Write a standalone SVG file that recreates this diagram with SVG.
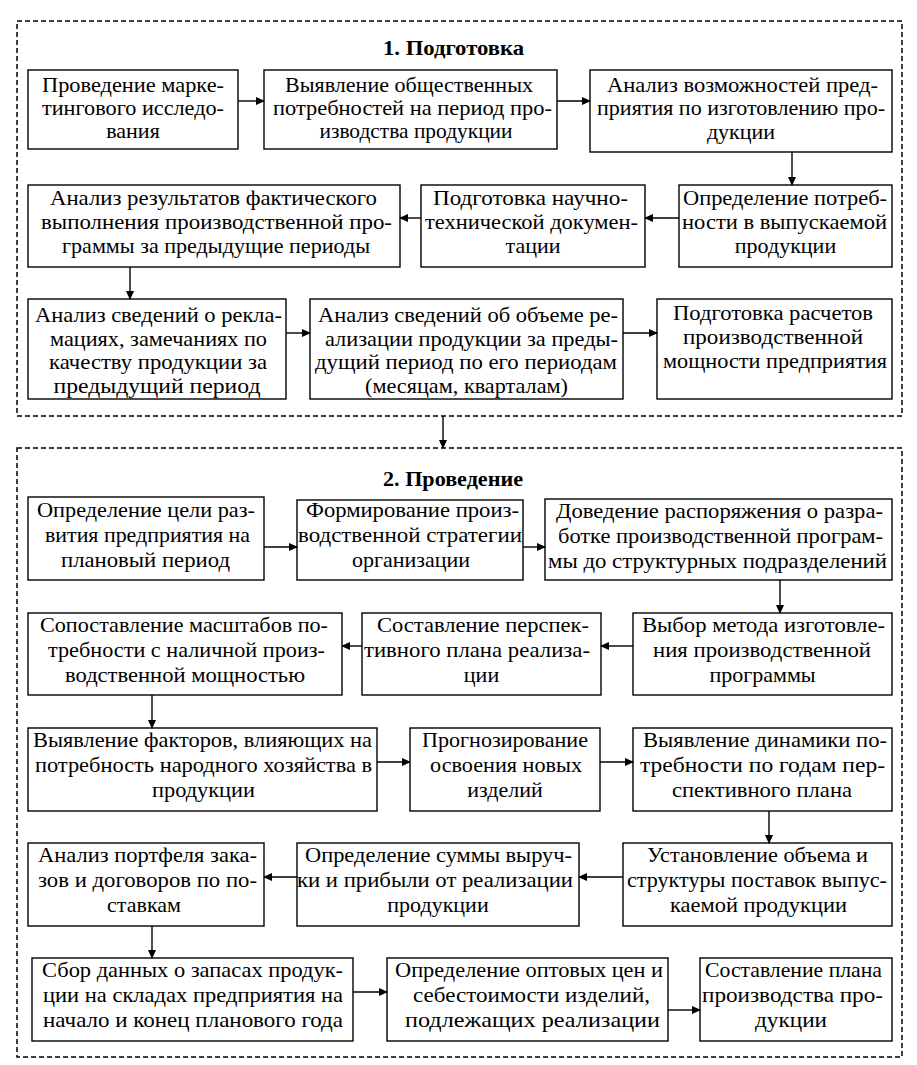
<svg xmlns="http://www.w3.org/2000/svg" width="917" height="1065" viewBox="0 0 917 1065">
<style>
.sec{fill:none;stroke:#000;stroke-width:1.5;stroke-dasharray:5 3}
.b{fill:#fff;stroke:#000;stroke-width:1.4}
.o{fill:none;stroke:#000;stroke-width:1.4}
.t{font-family:"Liberation Serif","DejaVu Serif",serif;font-size:22px;fill:#000;text-anchor:middle}
.h{font-family:"Liberation Serif","DejaVu Serif",serif;font-size:21px;font-weight:bold;fill:#000;text-anchor:middle}
.c line{stroke:#000;stroke-width:1.4;marker-end:url(#ah)}
</style>
<defs>
<marker id="ah" markerUnits="userSpaceOnUse" markerWidth="9" markerHeight="8" refX="8" refY="4" orient="auto">
<path d="M0,0 L9,4 L0,8 z" fill="#000"/>
</marker>
</defs>
<rect width="917" height="1065" fill="#fff"/>
<g id="section1">
<rect class="sec" x="17" y="21" width="885" height="395"/>
<text class="h" x="453.5" y="55" textLength="141" lengthAdjust="spacingAndGlyphs">1. Подготовка</text>
</g>
<g id="section2">
<rect class="sec" x="17" y="448" width="885" height="609"/>
<text class="h" x="453" y="486" textLength="140" lengthAdjust="spacingAndGlyphs">2. Проведение</text>
</g>
<g id="n1"><rect class="b" x="28" y="70" width="210" height="79"/><text class="t"><tspan x="133" y="92" textLength="182" lengthAdjust="spacingAndGlyphs">Проведение марке-</tspan><tspan x="133" y="115" textLength="182" lengthAdjust="spacingAndGlyphs">тингового исследо-</tspan><tspan x="133" y="138">вания</tspan></text></g>
<g id="n2"><rect class="b" x="264" y="70" width="293" height="79"/><text class="t"><tspan x="409" y="92" textLength="248" lengthAdjust="spacingAndGlyphs">Выявление общественных</tspan><tspan x="412.5" y="115" textLength="279" lengthAdjust="spacingAndGlyphs">потребностей на период про-</tspan><tspan x="416" y="138" textLength="193" lengthAdjust="spacingAndGlyphs">изводства продукции</tspan></text></g>
<g id="n3"><rect class="b" x="590" y="70" width="302" height="82"/><text class="t"><tspan x="742.5" y="92" textLength="271" lengthAdjust="spacingAndGlyphs">Анализ возможностей пред-</tspan><tspan x="741" y="115" textLength="288" lengthAdjust="spacingAndGlyphs">приятия по изготовлению про-</tspan><tspan x="741" y="139">дукции</tspan></text></g>
<g id="n4"><rect class="b" x="679" y="185" width="213" height="82"/><text class="t"><tspan x="785" y="205" textLength="204" lengthAdjust="spacingAndGlyphs">Определение потреб-</tspan><tspan x="784.5" y="229" textLength="205" lengthAdjust="spacingAndGlyphs">ности в выпускаемой</tspan><tspan x="785.5" y="253">продукции</tspan></text></g>
<g id="n5"><rect class="b" x="421" y="185" width="224" height="82"/><text class="t"><tspan x="530.5" y="205" textLength="195" lengthAdjust="spacingAndGlyphs">Подготовка научно-</tspan><tspan x="531.5" y="229" textLength="213" lengthAdjust="spacingAndGlyphs">технической докумен-</tspan><tspan x="533" y="253">тации</tspan></text></g>
<g id="n6"><rect class="b" x="28" y="185" width="372" height="82"/><text class="t"><tspan x="213.5" y="205" textLength="327" lengthAdjust="spacingAndGlyphs">Анализ результатов фактического</tspan><tspan x="216.5" y="229" textLength="351" lengthAdjust="spacingAndGlyphs">выполнения производственной про-</tspan><tspan x="216" y="253" textLength="308" lengthAdjust="spacingAndGlyphs">граммы за предыдущие периоды</tspan></text></g>
<g id="n7"><text class="t"><tspan x="158.5" y="322" textLength="247" lengthAdjust="spacingAndGlyphs">Анализ сведений о рекла-</tspan><tspan x="158.5" y="345.5" textLength="217" lengthAdjust="spacingAndGlyphs">мациях, замечаниях по</tspan><tspan x="158" y="369" textLength="218" lengthAdjust="spacingAndGlyphs">качеству продукции за</tspan><tspan x="157" y="393" textLength="207" lengthAdjust="spacingAndGlyphs">предыдущий период</tspan></text><rect class="o" x="28" y="299" width="258" height="100"/></g>
<g id="n8"><text class="t"><tspan x="468" y="322" textLength="300" lengthAdjust="spacingAndGlyphs">Анализ сведений об объеме ре-</tspan><tspan x="471.5" y="345.5" textLength="293" lengthAdjust="spacingAndGlyphs">ализации продукции за преды-</tspan><tspan x="466" y="369" textLength="302" lengthAdjust="spacingAndGlyphs">дущий период по его периодам</tspan><tspan x="466.5" y="393" textLength="203" lengthAdjust="spacingAndGlyphs">(месяцам, кварталам)</tspan></text><rect class="o" x="310" y="299" width="313" height="100"/></g>
<g id="n9"><rect class="b" x="657" y="299" width="235" height="100"/><text class="t"><tspan x="773" y="320" textLength="200" lengthAdjust="spacingAndGlyphs">Подготовка расчетов</tspan><tspan x="773" y="344" textLength="180" lengthAdjust="spacingAndGlyphs">производственной</tspan><tspan x="775" y="368" textLength="224" lengthAdjust="spacingAndGlyphs">мощности предприятия</tspan></text></g>
<g id="m1"><rect class="b" x="28" y="497" width="236" height="83"/><text class="t"><tspan x="146" y="517" textLength="218" lengthAdjust="spacingAndGlyphs">Определение цели раз-</tspan><tspan x="147.5" y="542" textLength="205" lengthAdjust="spacingAndGlyphs">вития предприятия на</tspan><tspan x="145.5" y="567" textLength="169" lengthAdjust="spacingAndGlyphs">плановый период</tspan></text></g>
<g id="m2"><rect class="b" x="297" y="500" width="226" height="80"/><text class="t"><tspan x="412.5" y="517" textLength="213" lengthAdjust="spacingAndGlyphs">Формирование произ-</tspan><tspan x="410" y="542" textLength="224" lengthAdjust="spacingAndGlyphs">водственной стратегии</tspan><tspan x="411" y="567" textLength="118" lengthAdjust="spacingAndGlyphs">организации</tspan></text></g>
<g id="m3"><rect class="b" x="545" y="499" width="347" height="81"/><text class="t"><tspan x="719.5" y="518" textLength="327" lengthAdjust="spacingAndGlyphs">Доведение распоряжения о разра-</tspan><tspan x="720.5" y="543" textLength="325" lengthAdjust="spacingAndGlyphs">ботке производственной програм-</tspan><tspan x="717.5" y="568" textLength="339" lengthAdjust="spacingAndGlyphs">мы до структурных подразделений</tspan></text></g>
<g id="m4"><rect class="b" x="633" y="613" width="259" height="82"/><text class="t"><tspan x="763.5" y="632" textLength="243" lengthAdjust="spacingAndGlyphs">Выбор метода изготовле-</tspan><tspan x="762" y="657" textLength="218" lengthAdjust="spacingAndGlyphs">ния производственной</tspan><tspan x="762.5" y="682">программы</tspan></text></g>
<g id="m5"><rect class="b" x="362" y="613" width="239" height="82"/><text class="t"><tspan x="483" y="632" textLength="212" lengthAdjust="spacingAndGlyphs">Составление перспек-</tspan><tspan x="477" y="657" textLength="226" lengthAdjust="spacingAndGlyphs">тивного плана реализа-</tspan><tspan x="481.5" y="682">ции</tspan></text></g>
<g id="m6"><rect class="b" x="28" y="613" width="314" height="82"/><text class="t"><tspan x="184" y="632" textLength="288" lengthAdjust="spacingAndGlyphs">Сопоставление масштабов по-</tspan><tspan x="186.5" y="657" textLength="277" lengthAdjust="spacingAndGlyphs">требности с наличной произ-</tspan><tspan x="185" y="682" textLength="240" lengthAdjust="spacingAndGlyphs">водственной мощностью</tspan></text></g>
<g id="m7"><rect class="b" x="28" y="728" width="349" height="83"/><text class="t"><tspan x="202.5" y="747" textLength="339" lengthAdjust="spacingAndGlyphs">Выявление факторов, влияющих на</tspan><tspan x="203.5" y="772" textLength="337" lengthAdjust="spacingAndGlyphs">потребность народного хозяйства в</tspan><tspan x="203.5" y="797" textLength="103" lengthAdjust="spacingAndGlyphs">продукции</tspan></text></g>
<g id="m8"><rect class="b" x="410" y="728" width="190" height="83"/><text class="t"><tspan x="505" y="747" textLength="166" lengthAdjust="spacingAndGlyphs">Прогнозирование</tspan><tspan x="506" y="772" textLength="152" lengthAdjust="spacingAndGlyphs">освоения новых</tspan><tspan x="505" y="797">изделий</tspan></text></g>
<g id="m9"><rect class="b" x="633" y="728" width="259" height="83"/><text class="t"><tspan x="765" y="747" textLength="244" lengthAdjust="spacingAndGlyphs">Выявление динамики по-</tspan><tspan x="762.5" y="772" textLength="245" lengthAdjust="spacingAndGlyphs">требности по годам пер-</tspan><tspan x="762" y="797" textLength="180" lengthAdjust="spacingAndGlyphs">спективного плана</tspan></text></g>
<g id="m10"><rect class="b" x="623" y="843" width="269" height="83"/><text class="t"><tspan x="757.5" y="862" textLength="221" lengthAdjust="spacingAndGlyphs">Установление объема и</tspan><tspan x="757" y="887" textLength="260" lengthAdjust="spacingAndGlyphs">структуры поставок выпус-</tspan><tspan x="758.5" y="912" textLength="177" lengthAdjust="spacingAndGlyphs">каемой продукции</tspan></text></g>
<g id="m11"><rect class="b" x="297" y="843" width="282" height="83"/><text class="t"><tspan x="438.5" y="862" textLength="267" lengthAdjust="spacingAndGlyphs">Определение суммы выруч-</tspan><tspan x="435" y="887" textLength="276" lengthAdjust="spacingAndGlyphs">ки и прибыли от реализации</tspan><tspan x="438" y="912">продукции</tspan></text></g>
<g id="m12"><rect class="b" x="28" y="843" width="236" height="83"/><text class="t"><tspan x="147.5" y="862" textLength="219" lengthAdjust="spacingAndGlyphs">Анализ портфеля зака-</tspan><tspan x="147.5" y="887" textLength="219" lengthAdjust="spacingAndGlyphs">зов и договоров по по-</tspan><tspan x="144" y="912">ставкам</tspan></text></g>
<g id="m13"><rect class="b" x="32" y="958" width="321" height="83"/><text class="t"><tspan x="192.5" y="977" textLength="301" lengthAdjust="spacingAndGlyphs">Сбор данных о запасах продук-</tspan><tspan x="193" y="1002" textLength="300" lengthAdjust="spacingAndGlyphs">ции на складах предприятия на</tspan><tspan x="193" y="1027" textLength="300" lengthAdjust="spacingAndGlyphs">начало и конец планового года</tspan></text></g>
<g id="m14"><rect class="b" x="387" y="958" width="281" height="83"/><text class="t"><tspan x="529" y="977" textLength="268" lengthAdjust="spacingAndGlyphs">Определение оптовых цен и</tspan><tspan x="531.5" y="1002" textLength="237" lengthAdjust="spacingAndGlyphs">себестоимости изделий,</tspan><tspan x="532.5" y="1027" textLength="255" lengthAdjust="spacingAndGlyphs">подлежащих реализации</tspan></text></g>
<g id="m15"><rect class="b" x="700" y="958" width="192" height="83"/><text class="t"><tspan x="793.5" y="977" textLength="177" lengthAdjust="spacingAndGlyphs">Составление плана</tspan><tspan x="792.5" y="1002" textLength="181" lengthAdjust="spacingAndGlyphs">производства про-</tspan><tspan x="791" y="1027" textLength="72" lengthAdjust="spacingAndGlyphs">дукции</tspan></text></g>
<g id="connectors" class="c">
<line x1="238" y1="101" x2="264" y2="101"/>
<line x1="557" y1="101" x2="590" y2="101"/>
<line x1="792" y1="152" x2="792" y2="185"/>
<line x1="679" y1="218" x2="645" y2="218"/>
<line x1="421" y1="218" x2="400" y2="218"/>
<line x1="130" y1="267" x2="130" y2="299"/>
<line x1="286" y1="333" x2="310" y2="333"/>
<line x1="623" y1="333" x2="657" y2="333"/>
<line x1="443" y1="416" x2="443" y2="448"/>
<line x1="264" y1="547" x2="297" y2="547"/>
<line x1="523" y1="547" x2="545" y2="547"/>
<line x1="780" y1="580" x2="780" y2="613"/>
<line x1="633" y1="646" x2="601" y2="646"/>
<line x1="362" y1="646" x2="342" y2="646"/>
<line x1="152" y1="695" x2="152" y2="728"/>
<line x1="377" y1="762" x2="410" y2="762"/>
<line x1="600" y1="762" x2="633" y2="762"/>
<line x1="769" y1="811" x2="769" y2="843"/>
<line x1="623" y1="877" x2="579" y2="877"/>
<line x1="297" y1="877" x2="264" y2="877"/>
<line x1="152" y1="926" x2="152" y2="958"/>
<line x1="353" y1="992" x2="387" y2="992"/>
<line x1="668" y1="1010" x2="700" y2="1010"/>
</g>
</svg>
